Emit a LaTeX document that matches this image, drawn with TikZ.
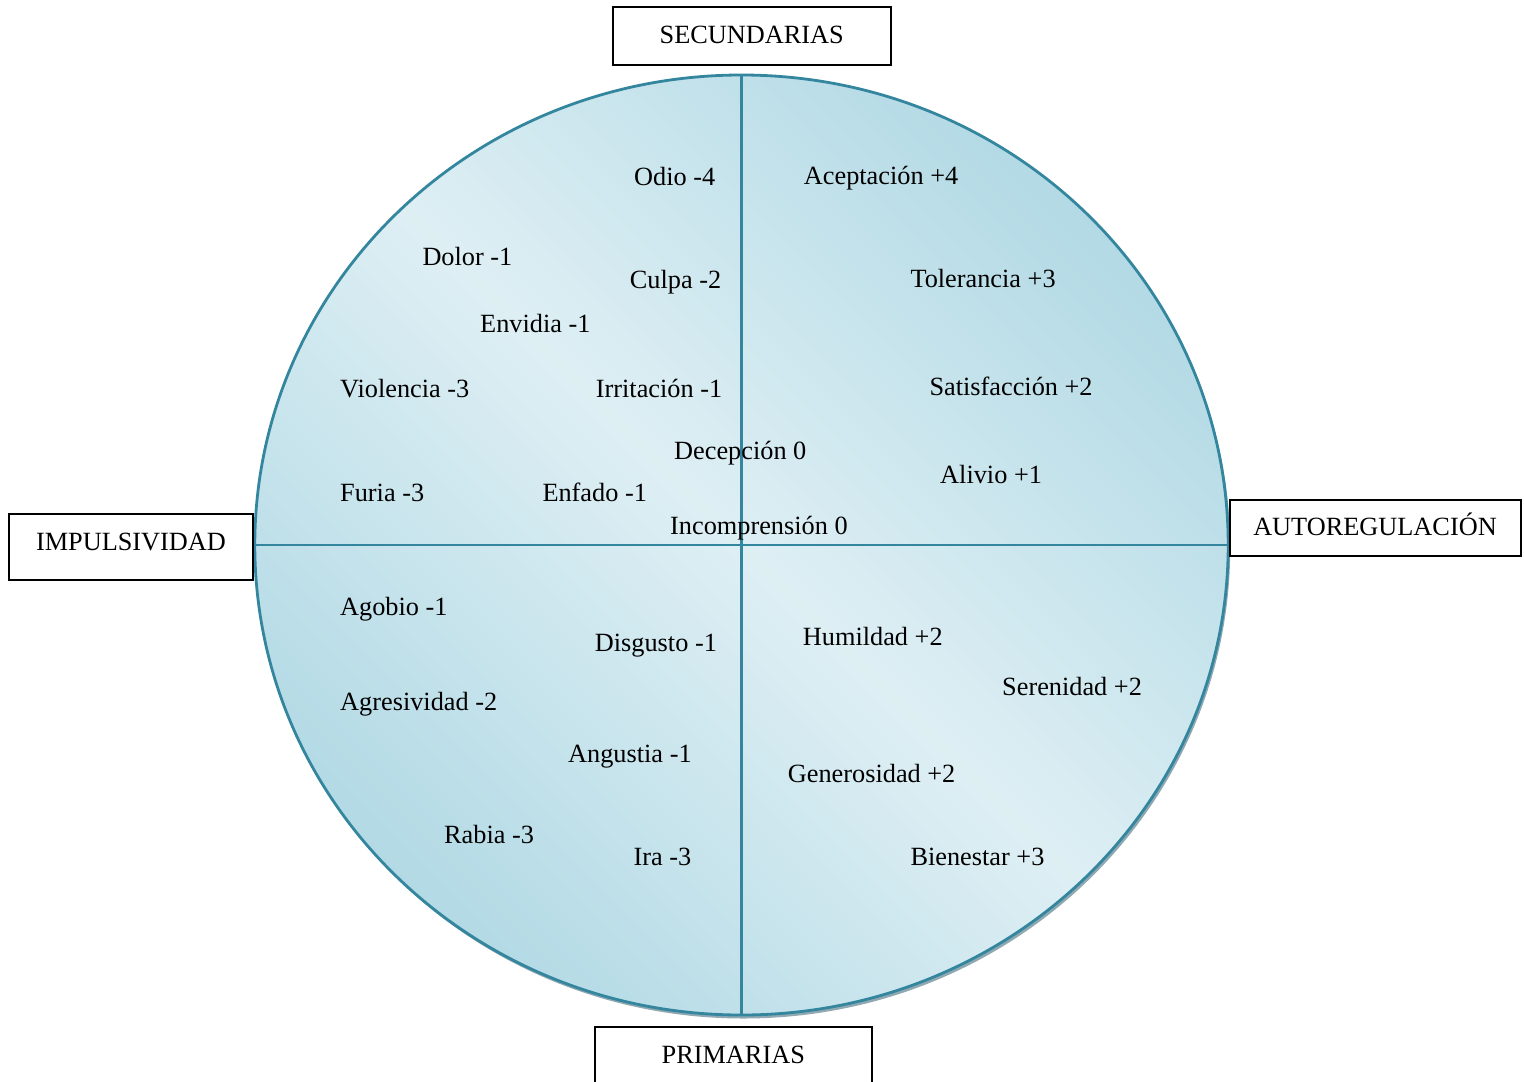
\documentclass[tikz,border=0pt]{standalone}
\usepackage{fontspec}
\setmainfont{Liberation Serif}
\definecolor{cdark}{HTML}{9FD0DE}
\definecolor{clight}{HTML}{DEEFF4}
\definecolor{rim}{HTML}{33869E}
\definecolor{shadowc}{HTML}{8FA8B1}
\pgfdeclareverticalshading{diagshade}{100bp}{color(0bp)=(cdark); color(14bp)=(cdark); color(50bp)=(clight); color(86bp)=(cdark); color(100bp)=(cdark)}
\tikzset{
  lbl/.style={anchor=base west, inner sep=0pt, font=\fontsize{26.3}{30}\selectfont},
  axisbox/.style={draw=black, line width=2pt, fill=white, inner sep=0pt, font=\fontsize{26.3}{30}\selectfont},
  divider/.style={draw=rim, line width=2.4pt}
}
\begin{document}
\begin{tikzpicture}[x=1pt,y=-1pt]
\useasboundingbox (0,0) rectangle (1524,1082);
% wheel
\fill[shadowc] (743.5,548.5) ellipse [x radius=486.7, y radius=470];
\shade[shading=diagshade, shading angle=-45, draw=rim, line width=2.8pt] (741.5,545) ellipse [x radius=486.7, y radius=470];
\coordinate (top) at (741.3,75);
\coordinate (bot) at (741.3,1015);
\coordinate (lft) at (255,545);
\coordinate (rgt) at (1228.3,545);
\draw[divider] (top) -- (bot);
\draw[divider] (lft) -- (rgt);
% axis boxes
\node[axisbox, minimum width=278, minimum height=58.6, text height=24, text depth=9.4] (sec) at (751.7,36) {SECUNDARIAS};
\node[axisbox, minimum width=244.6, minimum height=66, text height=20, text depth=14] (imp) at (131,547) {IMPULSIVIDAD};
\node[axisbox, minimum width=291, minimum height=56, text height=24, text depth=10] (aut) at (1375,528) {AUTOREGULACIÓN};
\node[axisbox, minimum width=277.3, minimum height=58, text height=24, text depth=10] (pri) at (733.3,1056.3) {PRIMARIAS};
% top-left quadrant
\node[lbl] (odio) at (634,185) {Odio -4};
\node[lbl] (dolor) at (422.3,265) {Dolor -1};
\node[lbl] (culpa) at (629.7,288.3) {Culpa -2};
\node[lbl] (envidia) at (480,332.3) {Envidia -1};
\node[lbl] (violencia) at (340,397.3) {Violencia -3};
\node[lbl] (irritacion) at (595.7,397.3) {Irritación -1};
\node[lbl] (decepcion) at (674,459) {Decepción 0};
\node[lbl] (furia) at (340,501) {Furia -3};
\node[lbl] (enfado) at (542.3,501) {Enfado -1};
\node[lbl] (incomp) at (670,534) {Incomprensión 0};
% top-right quadrant
\node[lbl] (acept) at (803.7,184.3) {Aceptación +4};
\node[lbl] (toler) at (910.3,287.7) {Tolerancia +3};
\node[lbl] (satisf) at (929.3,395) {Satisfacción +2};
\node[lbl] (alivio) at (940,483.3) {Alivio +1};
% bottom-left quadrant
\node[lbl] (agobio) at (340,615) {Agobio -1};
\node[lbl] (disgusto) at (594.7,651.7) {Disgusto -1};
\node[lbl] (agresiv) at (340,710.7) {Agresividad -2};
\node[lbl] (angustia) at (568,762.3) {Angustia -1};
\node[lbl] (rabia) at (444,843.3) {Rabia -3};
\node[lbl] (ira) at (633.3,865) {Ira -3};
% bottom-right quadrant
\node[lbl] (humildad) at (802.7,645.7) {Humildad +2};
\node[lbl] (serenidad) at (1002,695.7) {Serenidad +2};
\node[lbl] (generos) at (787.7,782.7) {Generosidad +2};
\node[lbl] (bienestar) at (910.3,865) {Bienestar +3};
\end{tikzpicture}
\end{document}
